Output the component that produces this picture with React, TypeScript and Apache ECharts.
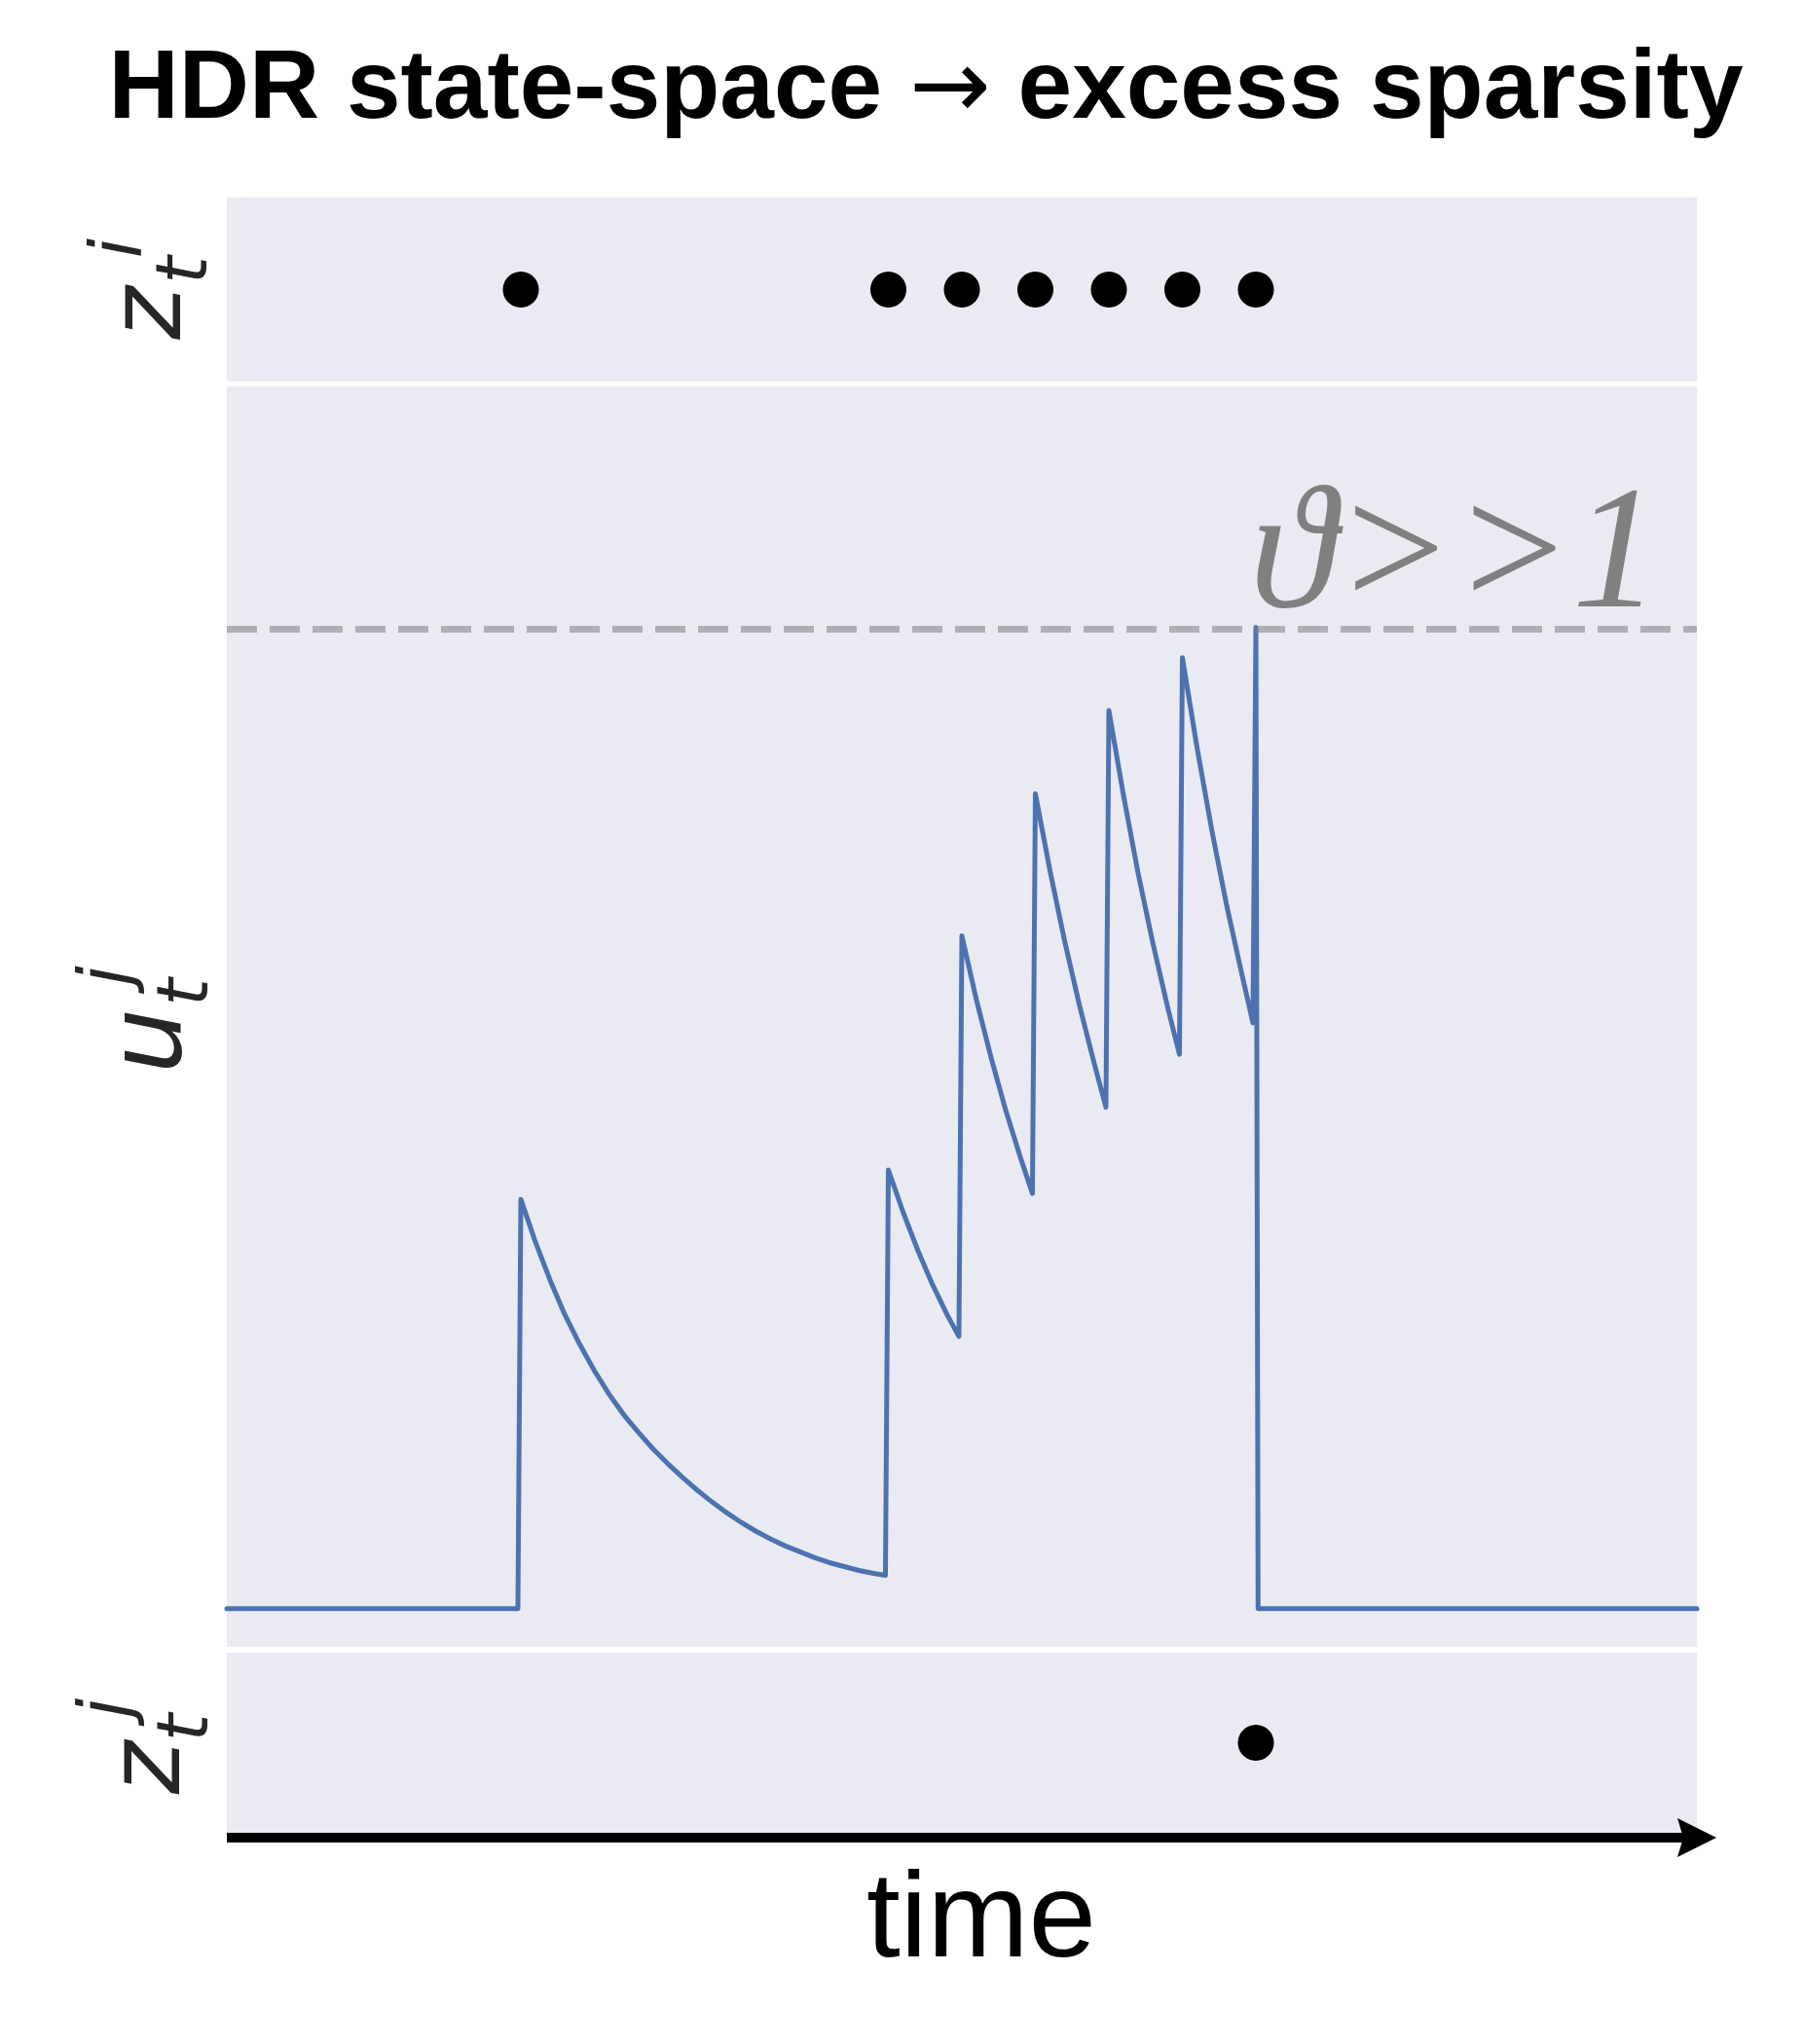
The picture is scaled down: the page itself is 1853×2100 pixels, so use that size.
import React, { useEffect, useRef } from "react";
import * as echarts from "echarts";

// ---- data ----
const titleLeft = "HDR state-space ";
const titleArrow = "\u2192";
const titleRight = " excess sparsity";
const xLabelText = "time";
const thresholdLabel = "\u03D1>>1";
const timeMin = 0;
const timeMax = 100;
const threshold = 1.0;
const ziSpikeTimes = [20, 45, 50, 55, 60, 65, 70];
const zjSpikeTimes = [70];
const uTimes = [
  0, 19.8, 20, 21, 22, 23, 24, 25, 26, 27, 28, 29, 30, 31, 32, 33, 34, 35, 36, 37, 38, 39, 40, 41, 42, 43, 44, 44.8,
  45, 46, 47, 48, 49, 49.8,
  50, 51, 52, 53, 54, 54.8,
  55, 56, 57, 58, 59, 59.8,
  60, 61, 62, 63, 64, 64.8,
  65, 66, 67, 68, 69, 69.8,
  70, 70.15, 100,
];
const uValues = [
  0, 0, 0.418, 0.374, 0.335, 0.3, 0.27, 0.243, 0.219, 0.198, 0.18, 0.163, 0.148, 0.134, 0.121, 0.109, 0.098, 0.088, 0.079, 0.071, 0.064, 0.058, 0.052, 0.047, 0.043, 0.039, 0.036, 0.034,
  0.448, 0.405, 0.366, 0.331, 0.3, 0.278,
  0.687, 0.621, 0.562, 0.508, 0.46, 0.424,
  0.832, 0.753, 0.681, 0.616, 0.557, 0.512,
  0.917, 0.83, 0.75, 0.679, 0.614, 0.566,
  0.971, 0.879, 0.795, 0.719, 0.651, 0.598,
  1.002, 0, 0,
];

const PANEL_BG = "#eaeaf2";
const LINE_BLUE = "#4c72b0";
const LABEL_COLOR = "#262626";

function rotPiece(text: string, x: number, y: number, size: number) {
  return {
    type: "text",
    x,
    y,
    rotation: Math.PI / 2,
    style: {
      text,
      fontFamily: "DejaVu Sans",
      fontStyle: "italic",
      fontSize: size,
      fill: LABEL_COLOR,
      align: "center",
      verticalAlign: "middle",
    },
  };
}

export default function App() {
  const ref = useRef<HTMLDivElement>(null);
  useEffect(() => {
    document.body.style.margin = "0";
    if (!ref.current) return;
    const chart = echarts.init(ref.current, undefined, { renderer: "svg" });
    const left = 233;
    const width = 1510;
    const grids = [
      { left, width, top: 203, height: 189 },
      { left, width, top: 397, height: 1295 },
      { left, width, top: 1698, height: 185 },
    ].map((g) => ({ ...g, show: true, backgroundColor: PANEL_BG, borderWidth: 0 }));
    const xAxes = [0, 1, 2].map((i) => ({
      type: "value",
      gridIndex: i,
      min: timeMin,
      max: timeMax,
      show: false,
    }));
    const yAxes = [
      { type: "value", gridIndex: 0, min: 0, max: 1, show: false },
      { type: "value", gridIndex: 1, min: -0.039, max: 1.248, show: false },
      { type: "value", gridIndex: 2, min: 0, max: 1, show: false },
    ];
    const uData = uTimes.map((t, i) => [t, uValues[i]]);
    const option: any = {
      animation: false,
      grid: grids,
      xAxis: xAxes,
      yAxis: yAxes,
      series: [
        {
          type: "scatter",
          xAxisIndex: 0,
          yAxisIndex: 0,
          data: ziSpikeTimes.map((t) => [t, 0.5]),
          symbolSize: 37,
          itemStyle: { color: "#000", opacity: 1 },
          silent: true,
        },
        {
          type: "line",
          xAxisIndex: 1,
          yAxisIndex: 1,
          data: uData,
          showSymbol: false,
          symbol: "none",
          lineStyle: { color: LINE_BLUE, width: 5, cap: "round", join: "round" },
          z: 2,
          markLine: {
            silent: true,
            symbol: "none",
            label: { show: false },
            lineStyle: {
              color: "rgba(128,128,128,0.55)",
              width: 7,
              type: [31, 13],
            },
            data: [{ yAxis: threshold }],
            z: 3,
          },
        },
        {
          type: "scatter",
          xAxisIndex: 2,
          yAxisIndex: 2,
          data: zjSpikeTimes.map((t) => [t, 0.5]),
          symbolSize: 37,
          itemStyle: { color: "#000", opacity: 1 },
          silent: true,
        },
      ],
      graphic: [
        {
          type: "text",
          x: 951,
          y: 121 - 0.3465 * 100,
          style: {
            text: "{b|" + titleLeft + "}{a|" + titleArrow + "}{b|" + titleRight + "}",
            fill: "#000",
            align: "center",
            verticalAlign: "middle",
            rich: {
              b: {
                fontFamily: "Liberation Sans",
                fontWeight: "bold",
                fontSize: 100,
                fill: "#000",
              },
              a: {
                fontFamily: "DejaVu Sans",
                fontWeight: "normal",
                fontSize: 100,
                fill: "#000",
              },
            },
          },
        },
        rotPiece("z", 148.6, 321.5, 104),
        rotPiece("t", 186, 277.5, 73),
        rotPiece("i", 119, 255, 73),
        rotPiece("u", 149, 1069.5, 106),
        rotPiece("t", 187, 1019.5, 73),
        rotPiece("j", 107, 1002.5, 73),
        rotPiece("z", 147.6, 1816, 104),
        rotPiece("t", 187, 1775, 73),
        rotPiece("j", 107, 1755, 73),
        {
          type: "text",
          x: 1494,
          y: 623 - 0.3375 * 180,
          z: 10,
          style: {
            text: thresholdLabel,
            fontFamily: "Liberation Serif",
            fontStyle: "italic",
            fontSize: 180,
            fill: "#808080",
            align: "center",
            verticalAlign: "middle",
          },
        },
        {
          type: "line",
          shape: { x1: 233, y1: 1888, x2: 1730, y2: 1888 },
          style: { stroke: "#000", lineWidth: 10 },
        },
        {
          type: "polygon",
          shape: {
            points: [
              [1723, 1868],
              [1763, 1888],
              [1723, 1908],
              [1729, 1888],
            ],
          },
          style: { fill: "#000" },
        },
        {
          type: "text",
          x: 1008,
          y: 2010 - 0.3465 * 125,
          style: {
            text: xLabelText,
            fontFamily: "Liberation Sans",
            fontSize: 125,
            fill: "#000",
            align: "center",
            verticalAlign: "middle",
          },
        },
      ],
    };
    chart.setOption(option);
    return () => chart.dispose();
  }, []);
  return (
    <div
      ref={ref}
      style={{ position: "absolute", left: 0, top: 0, width: 1853, height: 2100 }}
    />
  );
}
